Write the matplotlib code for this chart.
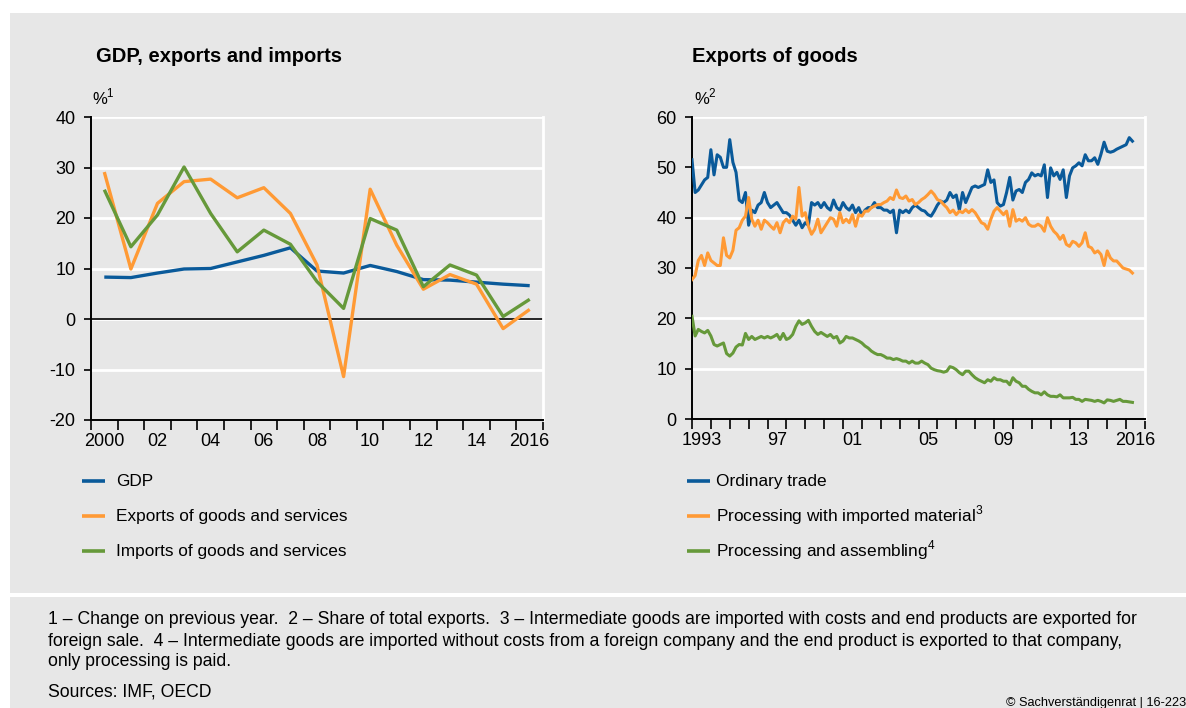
import numpy as np
import matplotlib
matplotlib.use("Agg")
import matplotlib.pyplot as plt
from matplotlib.patches import Rectangle
from matplotlib.lines import Line2D

# ---------------- data ----------------
years_left = [2000, 2001, 2002, 2003, 2004, 2005, 2006, 2007, 2008,
              2009, 2010, 2011, 2012, 2013, 2014, 2015, 2016]
gdp = [8.3, 8.2, 9.1, 9.9, 10.0, 11.3, 12.6, 14.1, 9.5,
       9.1, 10.6, 9.4, 7.8, 7.7, 7.3, 6.9, 6.6]
exports_gs = [29.1, 9.9, 22.9, 27.2, 27.7, 24.0, 26.0, 20.9, 10.7,
              -11.4, 25.7, 14.6, 5.9, 8.8, 6.9, -1.9, 1.9]
imports_gs = [25.6, 14.3, 20.6, 30.1, 20.9, 13.3, 17.6, 14.8, 7.4,
              2.1, 19.9, 17.6, 6.4, 10.7, 8.7, 0.5, 3.9]

left_tick_labels = ["2000", "02", "04", "06", "08", "10", "12", "14", "2016"]
left_label_years = [2000, 2002, 2004, 2006, 2008, 2010, 2012, 2014, 2016]
left_legend = ["GDP", "Exports of goods and services", "Imports of goods and services"]

# bi-monthly observations, starting January 1993
start_year = 1993
obs_per_year = 6
ordinary_trade = [
    51.5, 45.0, 45.5, 46.5, 47.5, 48.0,   # 1993
    53.5, 48.5, 52.5, 52.0, 50.0, 50.0,   # 1994
    55.5, 51.0, 49.0, 43.5, 43.0, 45.0,   # 1995
    38.5, 41.5, 41.0, 42.5, 43.0, 45.0,   # 1996
    43.0, 42.0, 42.5, 43.0, 42.0, 41.0,   # 1997
    41.0, 40.5, 39.5, 38.5, 39.5, 38.0,   # 1998
    39.0, 38.5, 43.0, 42.5, 43.0, 42.0,   # 1999
    43.0, 42.0, 41.5, 43.5, 42.0, 41.5,   # 2000
    43.0, 42.0, 41.5, 42.5, 41.0, 42.0,   # 2001
    40.5, 41.5, 42.0, 42.0, 43.0, 42.0,   # 2002
    42.0, 41.5, 41.5, 41.0, 41.5, 37.0,   # 2003
    41.5, 41.0, 41.5, 41.0, 42.0, 42.5,   # 2004
    42.0, 41.5, 41.3, 40.6, 40.3, 41.3,   # 2005
    42.5, 43.3, 43.0, 43.5, 45.0, 44.0,   # 2006
    44.5, 41.5, 45.0, 43.0, 44.5, 46.0,   # 2007
    46.3, 46.0, 46.3, 46.6, 49.5, 47.0,   # 2008
    47.5, 43.0, 42.3, 42.6, 45.0, 48.0,   # 2009
    43.5, 45.3, 45.6, 45.0, 47.0, 47.6,   # 2010
    48.9, 48.3, 48.6, 48.3, 50.5, 44.0,   # 2011
    49.9, 48.3, 49.0, 47.6, 49.5, 44.0,   # 2012
    48.3, 49.9, 50.3, 50.9, 50.3, 52.5,   # 2013
    51.3, 51.3, 51.9, 50.6, 52.6, 55.0,   # 2014
    53.2, 53.0, 53.2, 53.6, 53.9, 54.2,   # 2015
    54.5, 55.9, 55.2]                     # 2016

processing_imported = [
    27.7, 28.5, 31.5, 32.5, 30.5, 33.0,   # 1993
    31.5, 31.0, 30.5, 30.5, 36.0, 32.5,   # 1994
    32.0, 33.5, 37.5, 38.0, 39.5, 40.3,   # 1995
    44.0, 39.7, 38.3, 39.5, 37.7, 39.5,   # 1996
    39.0, 38.3, 37.7, 39.0, 37.0, 39.0,   # 1997
    39.7, 39.0, 40.3, 39.7, 46.0, 40.3,   # 1998
    41.0, 38.3, 36.7, 37.7, 39.7, 37.0,   # 1999
    38.0, 39.0, 40.0, 39.7, 38.3, 41.0,   # 2000
    39.0, 39.7, 39.0, 40.6, 38.3, 40.6,   # 2001
    40.3, 41.3, 41.3, 42.0, 42.3, 42.6,   # 2002
    42.6, 43.0, 43.3, 44.0, 43.6, 45.5,   # 2003
    44.0, 43.8, 44.3, 43.3, 43.6, 42.6,   # 2004
    43.0, 43.6, 44.0, 44.6, 45.3, 44.6,   # 2005
    43.6, 43.3, 42.6, 42.0, 41.0, 41.5,   # 2006
    40.6, 41.3, 41.0, 41.6, 41.0, 41.6,   # 2007
    41.0, 40.0, 39.0, 38.7, 37.7, 39.7,   # 2008
    41.3, 42.0, 41.3, 40.6, 41.3, 38.3,   # 2009
    41.6, 39.3, 39.7, 39.3, 40.0, 38.7,   # 2010
    38.3, 38.3, 38.7, 38.3, 37.3, 40.0,   # 2011
    38.3, 37.3, 36.7, 35.7, 36.5, 34.7,   # 2012
    34.3, 35.3, 35.0, 34.3, 35.0, 37.0,   # 2013
    34.3, 34.0, 33.0, 33.4, 32.7, 30.5,   # 2014
    33.4, 32.0, 31.4, 31.4, 30.7, 30.0,   # 2015
    29.8, 29.6, 29.0]                     # 2016

processing_assembling = [
    20.4, 16.5, 17.8, 17.4, 17.1, 17.6,   # 1993
    16.5, 14.8, 14.5, 14.8, 15.1, 13.0,   # 1994
    12.5, 13.1, 14.3, 14.8, 14.7, 17.0,   # 1995
    15.8, 16.4, 15.8, 16.1, 16.4, 16.1,   # 1996
    16.4, 16.1, 16.4, 16.8, 15.8, 17.0,   # 1997
    15.8, 16.1, 16.8, 18.4, 19.5, 18.8,   # 1998
    19.1, 19.6, 18.4, 17.4, 16.8, 17.2,   # 1999
    16.8, 16.4, 16.8, 16.1, 16.4, 15.1,   # 2000
    15.5, 16.4, 16.1, 16.1, 15.8, 15.5,   # 2001
    15.1, 14.5, 14.1, 13.5, 13.1, 12.8,   # 2002
    12.8, 12.5, 12.1, 12.1, 11.8, 12.0,   # 2003
    11.8, 11.5, 11.5, 11.1, 11.5, 11.1,   # 2004
    11.1, 11.5, 11.1, 10.8, 10.1, 9.8,    # 2005
    9.6, 9.5, 9.3, 9.5, 10.4, 10.2,       # 2006
    9.8, 9.2, 8.8, 9.5, 9.5, 8.8,         # 2007
    8.2, 7.8, 7.5, 7.2, 7.8, 7.5,         # 2008
    8.2, 7.8, 7.8, 7.5, 7.5, 6.8,         # 2009
    8.2, 7.5, 7.2, 6.5, 6.5, 5.9,         # 2010
    5.5, 5.2, 5.2, 4.8, 5.4, 4.8,         # 2011
    4.5, 4.5, 4.4, 4.8, 4.2, 4.2,         # 2012
    4.2, 4.3, 3.9, 3.9, 3.5, 3.9,         # 2013
    3.8, 3.7, 3.5, 3.7, 3.5, 3.2,         # 2014
    3.8, 3.7, 3.5, 3.7, 3.9, 3.5,         # 2015
    3.5, 3.4, 3.3]                        # 2016

right_tick_labels = ["1993", "97", "01", "05", "09", "13", "2016"]
right_label_years = [1993, 1997, 2001, 2005, 2009, 2013, 2016]
right_legend = ["Ordinary trade",
                r"Processing with imported material$^{\mathregular{3}}$",
                r"Processing and assembling$^{\mathregular{4}}$"]

# ---------------- style ----------------
BG = "#e7e7e7"
BLUE = "#0a5a9a"
ORANGE = "#ff9a35"
GREEN = "#66993a"
FONT = "Liberation Sans"
plt.rcParams["font.family"] = [FONT, "DejaVu Sans"]
plt.rcParams["mathtext.fontset"] = "custom"
plt.rcParams["mathtext.rm"] = FONT
plt.rcParams["axes.unicode_minus"] = False

W, H = 1186, 708
fig = plt.figure(figsize=(W / 100, H / 100), dpi=100)
fig.patch.set_facecolor("white")


def fx(px):
    return px / W


def fy(py):
    return 1 - py / H


# panels
fig.patches.append(Rectangle((fx(10), fy(593)), fx(W) - fx(10), fy(13) - fy(593),
                             transform=fig.transFigure, facecolor=BG,
                             edgecolor="none", zorder=-10))
fig.patches.append(Rectangle((fx(10), fy(H)), fx(W) - fx(10), fy(597) - fy(H),
                             transform=fig.transFigure, facecolor=BG,
                             edgecolor="none", zorder=-10))


def style_axes(ax):
    ax.set_facecolor(BG)
    ax.spines["top"].set_visible(False)
    ax.spines["right"].set_color("white")
    ax.spines["right"].set_linewidth(2)
    ax.spines["left"].set_color("black")
    ax.spines["bottom"].set_color("black")
    ax.spines["left"].set_linewidth(1.4)
    ax.spines["bottom"].set_linewidth(1.4)
    ax.grid(axis="y", color="white", linewidth=2)
    ax.set_axisbelow(True)
    ax.tick_params(axis="y", which="major", length=5, width=1.2, pad=6,
                   labelsize=13, colors="black")
    ax.tick_params(axis="x", which="major", length=7, width=1.2,
                   labelbottom=False, direction="out")
    ax.tick_params(axis="x", which="minor", length=0, pad=9.5, labelsize=13)


# ---------------- left chart ----------------
ax1 = fig.add_axes([fx(91), fy(420), fx(543) - fx(91), fy(117) - fy(420)])
style_axes(ax1)
xl = np.array(years_left) + 0.5
l_gdp, = ax1.plot(xl, gdp, color=BLUE, lw=2.4, solid_capstyle="butt", zorder=3)
l_exp, = ax1.plot(xl, exports_gs, color=ORANGE, lw=2.4, solid_capstyle="butt", zorder=3)
l_imp, = ax1.plot(xl, imports_gs, color=GREEN, lw=2.4, solid_capstyle="butt", zorder=3)
ax1.axhline(0, color="black", lw=1.2, zorder=2)
ax1.set_xlim(2000, 2017)
ax1.set_ylim(-20, 40)
ax1.set_yticks([-20, -10, 0, 10, 20, 30, 40])
ax1.set_xticks(np.arange(2000, 2018))
ax1.set_xticks(np.array(left_label_years) + 0.5, minor=True)
ax1.set_xticklabels(left_tick_labels, minor=True)

# ---------------- right chart ----------------
ax2 = fig.add_axes([fx(692), fy(419), fx(1145) - fx(692), fy(117) - fy(419)])
style_axes(ax2)
t = start_year + np.arange(len(ordinary_trade)) / obs_per_year
r_ord, = ax2.plot(t, ordinary_trade, color=BLUE, lw=2.2, zorder=3)
r_imp, = ax2.plot(t, processing_imported, color=ORANGE, lw=2.2, zorder=3)
r_ass, = ax2.plot(t, processing_assembling, color=GREEN, lw=2.2, zorder=3)
ax2.set_xlim(1993, 2017)
ax2.set_ylim(0, 60)
ax2.set_yticks([0, 10, 20, 30, 40, 50, 60])
ax2.set_xticks(np.arange(1993, 2018))
ax2.set_xticks(np.array(right_label_years) + 0.5, minor=True)
ax2.set_xticklabels(right_tick_labels, minor=True)

# ---------------- titles & units ----------------
fig.text(fx(96), fy(57), "GDP, exports and imports", fontsize=14.5, fontweight="bold",
         va="center", ha="left")
fig.text(fx(692), fy(57), "Exports of goods", fontsize=14.5, fontweight="bold",
         va="center", ha="left")
fig.text(fx(92), fy(97), r"%$^{\mathregular{1}}$", fontsize=12, va="center", ha="left")
fig.text(fx(694), fy(97), r"%$^{\mathregular{2}}$", fontsize=12, va="center", ha="left")

# ---------------- legends (manual rows) ----------------
row_y = [481, 516, 551]


def draw_legend(lines, labels, x_handle, x_text):
    for ln, lab, yy in zip(lines, labels, row_y):
        fig.add_artist(Line2D([fx(x_handle), fx(x_handle + 23)], [fy(yy), fy(yy)],
                              transform=fig.transFigure, color=ln.get_color(),
                              lw=2.6, solid_capstyle="butt"))
        fig.text(fx(x_text), fy(yy + 5), lab, fontsize=12.4, va="baseline",
                 ha="left")


draw_legend([l_gdp, l_exp, l_imp], left_legend, 82, 116)
draw_legend([r_ord, r_imp, r_ass], right_legend, 687, 716)

# ---------------- footnotes ----------------
foot_lines = [
    "1 \u2013 Change on previous year.  2 \u2013 Share of total exports.  "
    "3 \u2013 Intermediate goods are imported with costs and end products are exported for",
    "foreign sale.  4 \u2013 Intermediate goods are imported without costs from a foreign "
    "company and the end product is exported to that company,",
    "only processing is paid."]
for line, yy in zip(foot_lines, [620, 641, 662]):
    fig.text(fx(48), fy(yy), line, fontsize=12.7, va="center", ha="left")
fig.text(fx(48), fy(692), "Sources: IMF, OECD", fontsize=12.7, va="center", ha="left")
fig.text(fx(1186), fy(703), "\u00a9 Sachverst\u00e4ndigenrat | 16-223", fontsize=9.2,
         va="center", ha="right")

fig.savefig("out.png", dpi=100, facecolor="white")
